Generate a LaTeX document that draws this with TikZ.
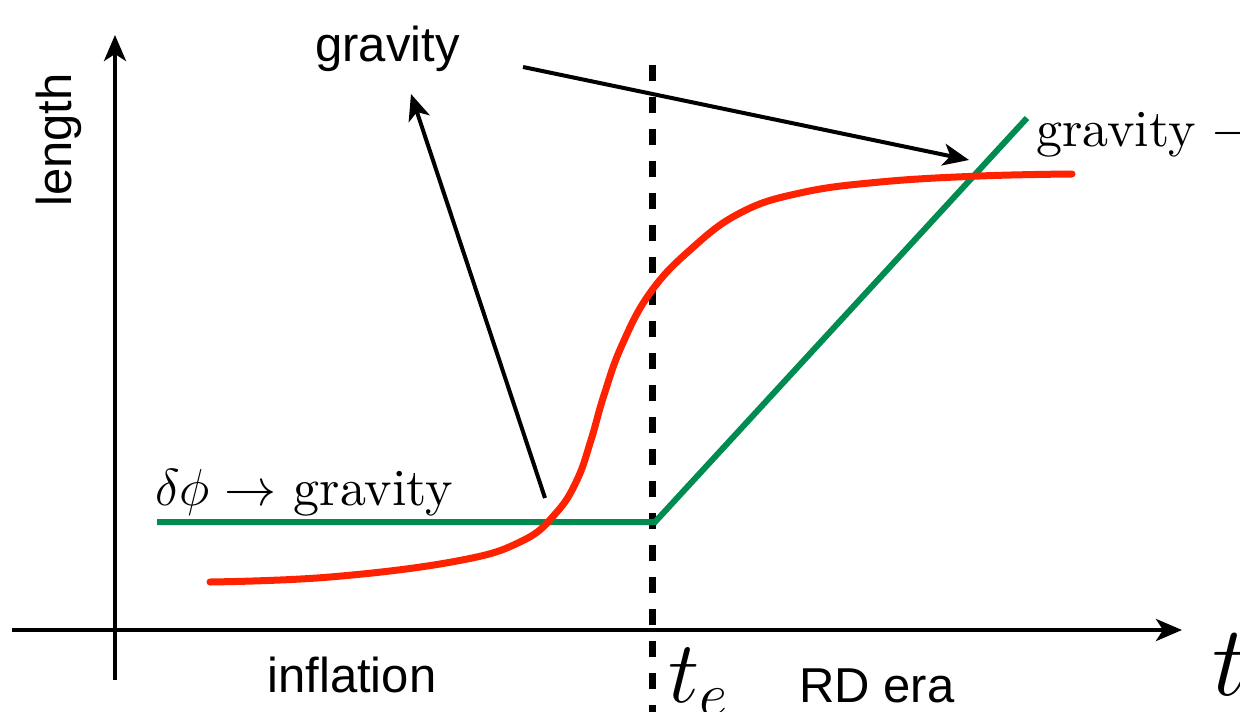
\RequirePackage{fix-cm}
\documentclass[tikz,border=0pt]{standalone}
\usepackage{fontspec}
\newfontfamily\sansfam{Liberation Sans}
\newfontfamily\cmten{lmroman10-regular}[Extension=.otf]
\usetikzlibrary{arrows.meta}
\definecolor{mygreen}{RGB}{0,140,80}
\definecolor{myred}{RGB}{255,34,0}
\tikzset{
  axis/.style={line width=2pt, -{Stealth[length=13pt,width=11pt,inset=3.5pt]}},
  pointer/.style={line width=2pt, -{Stealth[length=13pt,width=11pt,inset=3.5pt]}},
  greenline/.style={draw=mygreen, line width=3pt},
  redline/.style={draw=myred, line width=3.5pt, line cap=round},
  sanslabel/.style={font=\sansfam\fontsize{24.5}{28}\selectfont, inner sep=0pt},
  seriflabel/.style={font=\cmten\fontsize{26}{30}\selectfont, inner sep=0pt},
}
\begin{document}
\begin{tikzpicture}[x=0.5pt,y=-0.5pt]
\useasboundingbox (0,0) rectangle (1240,711);
\clip (0,0) rectangle (1240,711);
% axes
\coordinate (yb) at (115,680);
\coordinate (yt) at (115,35);
\coordinate (xl) at (12,630);
\coordinate (xr) at (1182,630);
\draw[axis] (yb) -- (yt);
\draw[axis] (xl) -- (xr);
% dashed line
\coordinate (dt) at (652,65);
\coordinate (db) at (652,720);
\draw[line width=3.5pt, dash pattern=on 8pt off 8pt] (dt) -- (db);
% green
\coordinate (g1) at (157,522);
\coordinate (g2) at (655,522);
\coordinate (g3) at (1027,118);
\draw[greenline] (g1) -- (g2) -- (g3);
% red curve
\draw[redline] plot[smooth, tension=0.7] coordinates {
 (210,582) (330,577) (457,561) (522,541) (556,513) (577,480) (591,440)
 (604,395) (622,345) (650,293) (690,250) (740,213) (800,193) (880,182) (980,176) (1072,174)};
% pointers
\coordinate (a1s) at (545,498);
\coordinate (a1e) at (411,94);
\draw[pointer] (a1s) -- (a1e);
\coordinate (a2s) at (523,67);
\coordinate (a2e) at (969,160);
\draw[pointer] (a2s) -- (a2e);
% labels
\node[sanslabel, anchor=base west] (grav) at (315,62) {gravity};
\node[sanslabel, anchor=base, rotate=90] (len) at (71,140) {length};
\node[sanslabel, anchor=base west] (infl) at (267,692) {inflation};
\node[sanslabel, anchor=base west] (rd) at (799,702) {RD era};
\node[seriflabel, anchor=base west] (gr2) at (1036,147) {gravity $\rightarrow$};
\node[seriflabel, anchor=base west] (dphi) at (155,505) {$\delta\phi\rightarrow$ gravity};
\node[inner sep=0pt, anchor=base west, font=\fontsize{44}{50}\selectfont] (te) at (668,702) {$t_e$};
\node[inner sep=0pt, anchor=base west, font=\fontsize{50}{56}\selectfont] (tt) at (1212,695) {$t$};
\end{tikzpicture}
\end{document}
